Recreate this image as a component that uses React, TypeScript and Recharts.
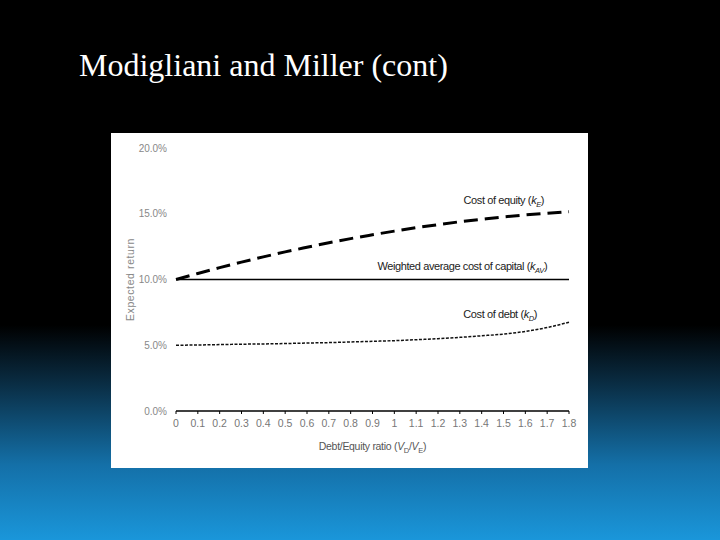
import { LineChart, Line, XAxis, YAxis, ReferenceDot } from 'recharts';

const ratios = [0, 0.1, 0.2, 0.3, 0.4, 0.5, 0.6, 0.7, 0.8, 0.9, 1, 1.1, 1.2, 1.3, 1.4, 1.5, 1.6, 1.7, 1.8];
const costOfEquity = [10.0, 10.46, 10.9, 11.32, 11.72, 12.1, 12.45, 12.79, 13.11, 13.4, 13.68, 13.94, 14.17, 14.39, 14.58, 14.76, 14.91, 15.04, 15.16];
const waccValues = [10, 10, 10, 10, 10, 10, 10, 10, 10, 10, 10, 10, 10, 10, 10, 10, 10, 10, 10];
const costOfDebt = [5.0, 5.02, 5.05, 5.08, 5.1, 5.13, 5.17, 5.2, 5.25, 5.3, 5.35, 5.42, 5.5, 5.6, 5.72, 5.85, 6.05, 6.35, 6.75];
const yTicks = [0, 5, 10, 15, 20];

const data = ratios.map((r, i) => ({
    ratio: r,
    kE: costOfEquity[i],
    kAV: waccValues[i],
    kD: costOfDebt[i],
}));

const FONT = '"Liberation Sans", Arial, sans-serif';

// annotation text with italic k + subscript, anchored at its right end
function note(text: string, sub: string) {
    return (props: any) => (
        <text
            x={props.cx}
            y={props.cy}
            textAnchor="end"
            fontFamily={FONT}
            fontSize={11}
            letterSpacing={-0.4}
            fill="#222"
        >
            {text} (
            <tspan fontStyle="italic">k</tspan>
            <tspan fontStyle="italic" fontSize={7.5} dy={3}>
                {sub}
            </tspan>
            <tspan dy={-3}>)</tspan>
        </text>
    );
}

export default function App() {
    return (
        <div
            style={{
                position: 'fixed',
                left: 0,
                top: 0,
                width: 720,
                height: 540,
                overflow: 'hidden',
                background:
                    'linear-gradient(180deg, #000 0px, #000 325px, #0a2e45 385px, #1470a8 465px, #1a96da 540px)',
            }}
        >
            <div
                style={{
                    position: 'absolute',
                    left: 79,
                    top: 49,
                    color: '#fff',
                    fontFamily: '"Liberation Serif", "Times New Roman", serif',
                    fontSize: 32,
                    lineHeight: '32px',
                    whiteSpace: 'nowrap',
                }}
            >
                Modigliani and Miller (cont)
            </div>
            <div style={{ position: 'absolute', left: 111, top: 133, width: 477, height: 335, background: '#fff' }}>
                <LineChart width={477} height={335} data={data} margin={{ top: 15, right: 19, left: 0, bottom: 0 }}>
                    <XAxis
                        type="number"
                        dataKey="ratio"
                        domain={[0, 1.8]}
                        ticks={ratios}
                        interval={0}
                        tickFormatter={(v: number) => String(v)}
                        tick={{ fill: '#777', fontSize: 10.5, fontFamily: FONT }}
                        axisLine={{ stroke: '#000', strokeWidth: 1.5 }}
                        tickLine={{ stroke: '#000' }}
                        tickSize={3}
                        tickMargin={6}
                        height={57}
                        label={{
                            content: ({ viewBox }: any) => (
                                <text
                                    x={viewBox.x + viewBox.width / 2}
                                    y={viewBox.y + 39}
                                    textAnchor="middle"
                                    fontFamily={FONT}
                                    fontSize={10.5}
                                    letterSpacing={-0.3}
                                    fill="#555"
                                >
                                    Debt/Equity ratio (<tspan fontStyle="italic">V</tspan>
                                    <tspan fontSize={7.5} dy={3}>D</tspan>
                                    <tspan dy={-3}>/</tspan>
                                    <tspan fontStyle="italic">V</tspan>
                                    <tspan fontSize={7.5} dy={3}>E</tspan>
                                    <tspan dy={-3}>)</tspan>
                                </text>
                            ),
                        }}
                    />
                    <YAxis
                        type="number"
                        domain={[0, 20]}
                        ticks={yTicks}
                        tickFormatter={(v: number) => `${v.toFixed(1)}%`}
                        tick={{ fill: '#888', fontSize: 10, fontFamily: FONT }}
                        axisLine={false}
                        tickLine={false}
                        tickSize={0}
                        tickMargin={9}
                        width={65}
                        label={{
                            content: ({ viewBox }: any) => {
                                const cx = viewBox.x + 23;
                                const cy = viewBox.y + viewBox.height / 2;
                                return (
                                    <text
                                        x={cx}
                                        y={cy}
                                        transform={`rotate(-90 ${cx} ${cy})`}
                                        textAnchor="middle"
                                        fontFamily={FONT}
                                        fontSize={10.5}
                                        letterSpacing={0.6}
                                        fill="#888"
                                    >
                                        Expected return
                                    </text>
                                );
                            },
                        }}
                    />
                    <Line
                        type="monotone"
                        dataKey="kAV"
                        stroke="#000"
                        strokeWidth={1.5}
                        dot={false}
                        isAnimationActive={false}
                    />
                    <Line
                        type="monotone"
                        dataKey="kE"
                        stroke="#000"
                        strokeWidth={3}
                        strokeDasharray="14 7"
                        dot={false}
                        isAnimationActive={false}
                    />
                    <Line
                        type="monotone"
                        dataKey="kD"
                        stroke="#111"
                        strokeWidth={1.5}
                        strokeDasharray="3 1.5"
                        dot={false}
                        isAnimationActive={false}
                    />
                    <ReferenceDot x={1.686} y={15.74} r={1} shape={note('Cost of equity', 'E')} />
                    <ReferenceDot x={1.7} y={10.72} r={1} shape={note('Weighted average cost of capital', 'AV')} />
                    <ReferenceDot x={1.654} y={7.07} r={1} shape={note('Cost of debt', 'D')} />
                </LineChart>
            </div>
        </div>
    );
}
